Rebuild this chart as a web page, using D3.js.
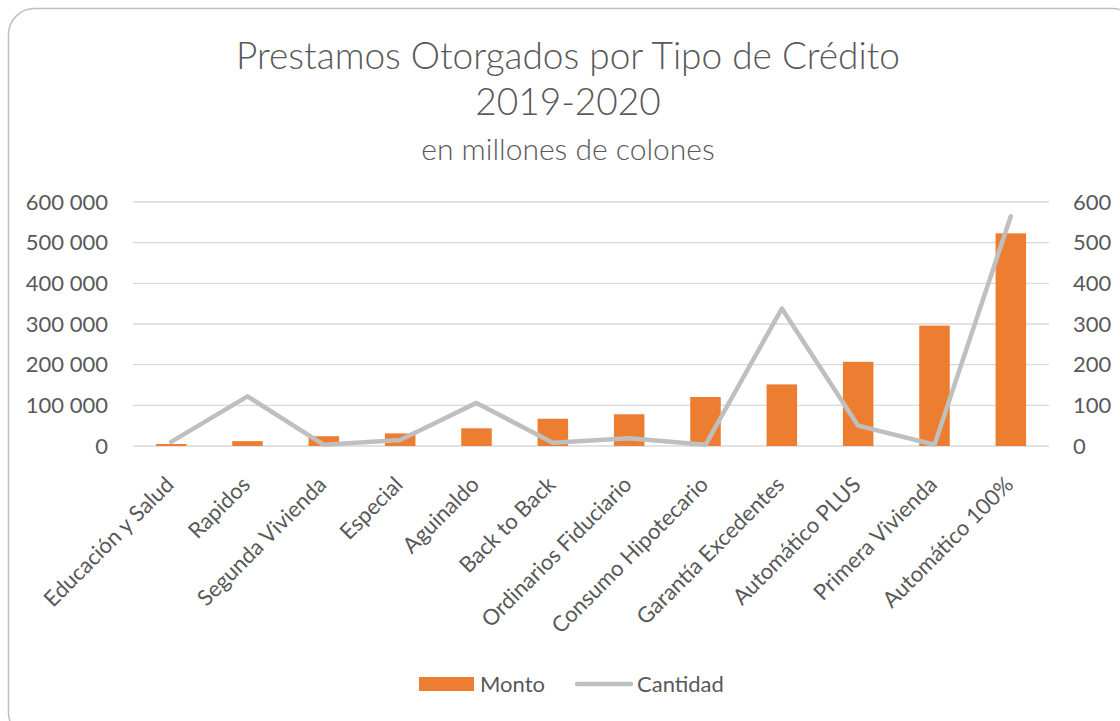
<!DOCTYPE html>
<html>
<head>
<meta charset="utf-8">
<script src="https://cdn.jsdelivr.net/npm/d3@7"></script>
<style>
  html, body { margin: 0; padding: 0; background: #fff; }
  text { font-family: Lato, "Open Sans", sans-serif; fill: #595959; }
</style>
</head>
<body>
<div id="chart"></div>
<script>
// categories and values
const categories = ["Educación y Salud", "Rapidos", "Segunda Vivienda", "Especial", "Aguinaldo",
    "Back to Back", "Ordinarios Fiduciario", "Consumo Hipotecario", "Garantía Excedentes",
    "Automático PLUS", "Primera Vivienda", "Automático 100%"];
const monto = [5000, 12000, 24000, 31000, 43500, 67000, 78000, 120500, 151500, 207000, 296000, 523000];
const cantidad = [10, 122, 3, 15, 106, 8, 19, 3, 338, 50, 3, 565];
const leftTicks = [0, 100000, 200000, 300000, 400000, 500000, 600000];
const rightTicks = [0, 100, 200, 300, 400, 500, 600];
const seriesNames = ["Monto", "Cantidad"];

const width = 1120, height = 721;
const margin = {top: 202, right: 71, bottom: 275, left: 133};
const innerW = width - margin.left - margin.right;
const innerH = height - margin.top - margin.bottom;

let svg = d3.select("#chart").append("svg")
    .attr("width", width)
    .attr("height", height);

// chart border
svg.append("rect")
    .attr("x", 8.5).attr("y", 8.5)
    .attr("width", 1130).attr("height", 730)
    .attr("rx", 26)
    .attr("fill", "none")
    .attr("stroke", "#BFBFBF")
    .attr("stroke-width", 1.5);

// titles
svg.append("text")
    .attr("x", 568).attr("y", 69)
    .attr("text-anchor", "middle")
    .style("font-size", "37px").style("font-weight", 300)
    .text("Prestamos Otorgados por Tipo de Crédito");
svg.append("text")
    .attr("x", 568).attr("y", 115)
    .attr("text-anchor", "middle")
    .style("font-size", "37px").style("font-weight", 300)
    .text("2019-2020");
svg.append("text")
    .attr("x", 568).attr("y", 160)
    .attr("text-anchor", "middle")
    .style("font-size", "30px").style("font-weight", 300)
    .text("en millones de colones");

let g = svg.append("g")
    .attr("transform", `translate(${margin.left},${margin.top})`);

let x = d3.scaleBand()
    .domain(categories)
    .range([0, innerW])
    .paddingInner(0.6)
    .paddingOuter(0.3);

let yLeft = d3.scaleLinear().domain([0, 600000]).range([innerH, 0]);
let yRight = d3.scaleLinear().domain([0, 600]).range([innerH, 0]);

// gridlines
g.selectAll(".grid")
    .data(leftTicks)
    .enter().append("line")
    .attr("class", "grid")
    .attr("x1", 0).attr("x2", innerW)
    .attr("y1", d => yLeft(d)).attr("y2", d => yLeft(d))
    .attr("stroke", "#D9D9D9")
    .attr("stroke-width", 1.3);

// left axis
let fmt = d => d3.format(",")(d).replace(/,/g, " ");
let leftAxis = g.append("g")
    .call(d3.axisLeft(yLeft).tickValues(leftTicks).tickFormat(fmt).tickSize(0).tickPadding(25));
leftAxis.select(".domain").remove();
leftAxis.selectAll("text").style("font-size", "22px").attr("fill", "#595959");

// right axis
let rightAxis = g.append("g")
    .attr("transform", `translate(${innerW},0)`)
    .call(d3.axisRight(yRight).tickValues(rightTicks).tickSize(0).tickPadding(24));
rightAxis.select(".domain").remove();
rightAxis.selectAll("text").style("font-size", "22px").attr("fill", "#595959");

// bars
g.selectAll(".bar")
    .data(categories)
    .enter().append("rect")
    .attr("class", "bar")
    .attr("x", d => x(d))
    .attr("width", x.bandwidth())
    .attr("y", (d, i) => yLeft(monto[i]))
    .attr("height", (d, i) => innerH - yLeft(monto[i]))
    .attr("fill", "#ED7D31");

// line on the secondary axis
let line = d3.line()
    .x((d, i) => x(categories[i]) + x.bandwidth() / 2)
    .y(d => yRight(d));

g.append("path")
    .datum(cantidad)
    .attr("d", line)
    .attr("fill", "none")
    .attr("stroke", "#BFBFBF")
    .attr("stroke-width", 4.5)
    .attr("stroke-linejoin", "round")
    .attr("stroke-linecap", "round");

// category labels, rotated
g.selectAll(".xlabel")
    .data(categories)
    .enter().append("text")
    .attr("class", "xlabel")
    .attr("text-anchor", "end")
    .attr("transform", d => `translate(${x(d) + x.bandwidth() / 2 + 4},${innerH + 40}) rotate(-45)`)
    .style("font-size", "22px")
    .text(d => d);

// legend
let legend = svg.append("g");
legend.append("rect")
    .attr("x", 419).attr("y", 677)
    .attr("width", 55).attr("height", 14)
    .attr("fill", "#ED7D31");
legend.append("text")
    .attr("x", 480).attr("y", 692)
    .style("font-size", "22px")
    .text(seriesNames[0]);
legend.append("line")
    .attr("x1", 577).attr("x2", 631)
    .attr("y1", 684).attr("y2", 684)
    .attr("stroke", "#BFBFBF")
    .attr("stroke-width", 4.5)
    .attr("stroke-linecap", "round");
legend.append("text")
    .attr("x", 637).attr("y", 692)
    .style("font-size", "22px")
    .text(seriesNames[1]);
</script>
</body>
</html>
